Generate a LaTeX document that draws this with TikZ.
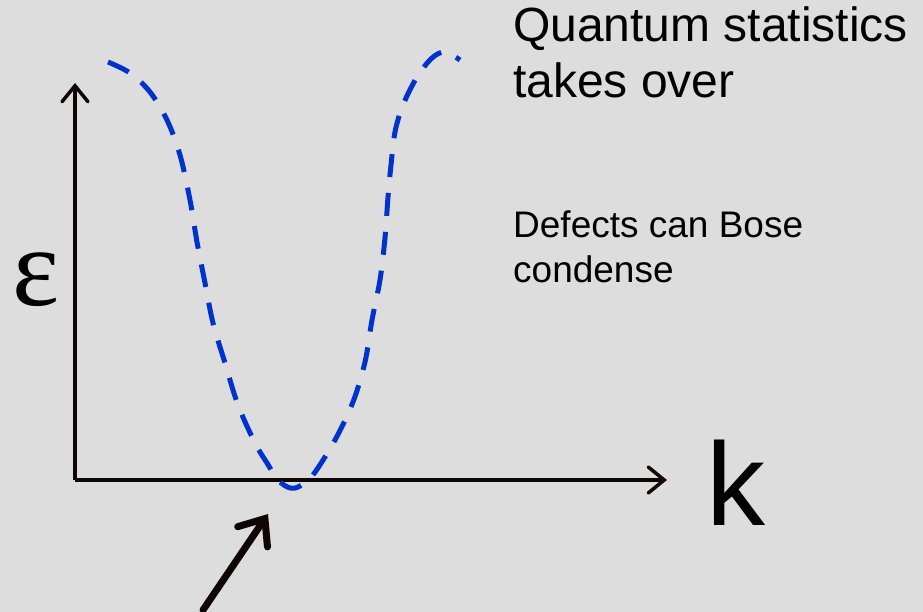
\documentclass[tikz,border=0pt]{standalone}
\usepackage{fontspec}
\setmainfont{Liberation Sans}
\newfontfamily\grfont{Liberation Serif}
\usepackage{tikz}
\usetikzlibrary{arrows.meta}
\definecolor{fondo}{RGB}{221,221,221}
\definecolor{ejes}{RGB}{16,5,5}
\definecolor{curva}{RGB}{0,51,204}
\tikzset{
  eje/.style={line width=3.5pt, draw=ejes,
    -{Straight Barb[length=16pt, width=26pt, line cap=round]}},
  dispersion/.style={line width=5pt, draw=curva, dash pattern=on 23pt off 16pt},
  puntero/.style={line width=7pt, draw=ejes, line cap=round,
    -{Straight Barb[length=22pt, width=36pt, line cap=round]}},
  grande/.style={font=\fontsize{48}{56}\selectfont, anchor=base west,
    align=left, inner sep=0pt},
  mediano/.style={font=\fontsize{37}{45}\selectfont, anchor=base west,
    align=left, inner sep=0pt},
  simbolo/.style={inner sep=0pt, anchor=base west}
}

\begin{document}
\begin{tikzpicture}[x=1pt, y=-1pt]
  \useasboundingbox[fill=fondo] (0,0) rectangle (923,612);
  % ejes
  \coordinate (origen) at (75,480);
  \coordinate (ytope) at (75,83);
  \coordinate (xfin) at (667,480);
  \draw[eje] (origen) -- (ytope);
  \draw[eje] (origen) -- (xfin);
  \node[simbolo, font=\fontsize{118}{118}\selectfont] (kax) at (706,525) {k};
  \node[simbolo, font=\grfont\fontsize{112}{112}\selectfont] (eps) at (12,305) {ε};
  % curva de dispersion
  \draw[dispersion] plot[smooth, tension=0.55] coordinates {
    (108,62) (130,73) (150,92) (167,120) (180,155) (190,200) (197,242)
    (205,283) (213,323) (225,363) (238,405) (255,443) (267,463) (278,480)
    (290,488) (300,486) (313,475) (335,440) (353,402) (365,362) (372,320)
    (380,280) (385,238) (388,197) (391,165) (395,132) (403,105) (417,77)
    (432,58) (445,52) (460,60)};
  % flecha al minimo
  \coordinate (cola) at (203,610);
  \coordinate (punta) at (268,514);
  \draw[puntero] (cola) -- (punta);
  % textos
  \node[grande] (cuantica) at (513,98) {Quantum statistics\\takes over};
  \node[mediano] (bose) at (513,283) {Defects can Bose\\condense};
\end{tikzpicture}
\end{document}
